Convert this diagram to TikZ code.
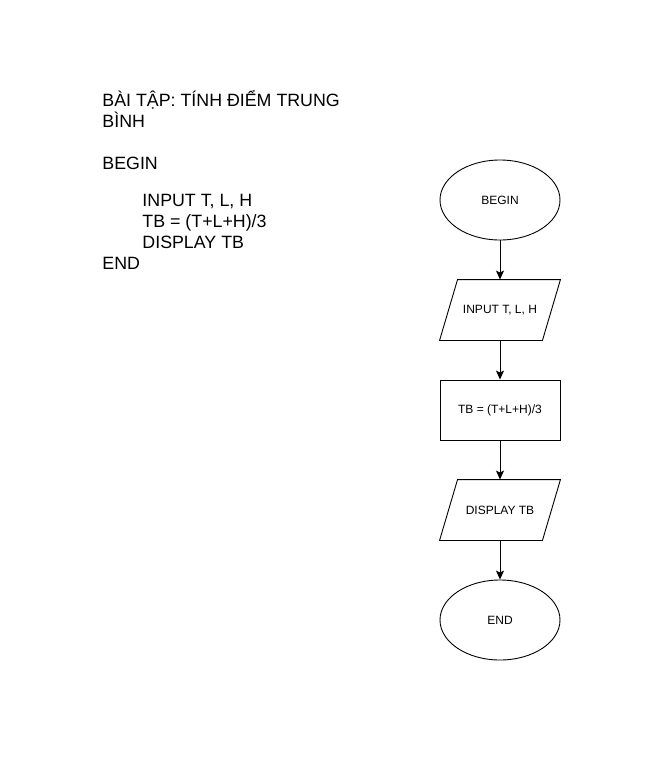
\documentclass[tikz,border=0pt]{standalone}
\usepackage{fontspec}
\setmainfont{Liberation Sans}
\usepackage{tikz}
\usetikzlibrary{arrows,arrows.meta,shapes,positioning}

\begin{document}
\begin{tikzpicture}[x=1pt,y=-1pt]
					\tikzstyle{every path}=[line width=0.9pt]

					\tikzstyle{pseudo}=[anchor=base west,inner sep=0pt,font=\fontsize{17.8}{20}\selectfont]
					\tikzstyle{fcterm}=[draw,ellipse,minimum width=120pt,minimum height=80pt,inner sep=0pt,font=\fontsize{12}{14}\selectfont]
					\tikzstyle{fcio}=[rectangle,minimum width=120pt,minimum height=60pt,inner sep=0pt,font=\fontsize{12}{14}\selectfont]
					\tikzstyle{fcproc}=[draw,rectangle,minimum width=120pt,minimum height=60pt,inner sep=0pt,font=\fontsize{12}{14}\selectfont]
					\tikzstyle{l} = [draw, -{Stealth[length=9pt,width=8pt,inset=2pt]}]

					\useasboundingbox (0,0) rectangle (661,761);

					%% Pseudo code
					\node [pseudo] (title1) at (102,106) {BÀI TẬP: TÍNH ĐIỂM TRUNG};
					\node [pseudo] (title2) at (102,127) {BÌNH};
					\node [pseudo] (pbegin) at (102,169) {BEGIN};
					\node [pseudo] (pinput) at (142,206) {INPUT T, L, H};
					\node [pseudo] (pcalc) at (142,227) {TB = (T+L+H)/3};
					\node [pseudo] (pdisp) at (142,248) {DISPLAY TB};
					\node [pseudo] (pend) at (102,269) {END};

					%% Flow chart
					\node [fcterm] (begin) at (500,200) {BEGIN};
					\node [fcio] (input) at (500,310) {INPUT T, L, H};
					\node [fcproc] (calc) at (500,410) {TB = (T+L+H)/3};
					\node [fcio] (disp) at (500,510) {DISPLAY TB};
					\node [fcterm] (end) at (500,620) {END};

					%% parallelogram outlines
					\foreach \n in {input,disp}
					    \draw ([xshift=18pt]\n.north west) -- (\n.north east) -- ([xshift=-18pt]\n.south east) -- (\n.south west) -- cycle;

					\path [l] (begin) -- (input);
					\path [l] (input) -- (calc);
					\path [l] (calc) -- (disp);
					\path [l] (disp) -- (end);

				\end{tikzpicture}
\end{document}
